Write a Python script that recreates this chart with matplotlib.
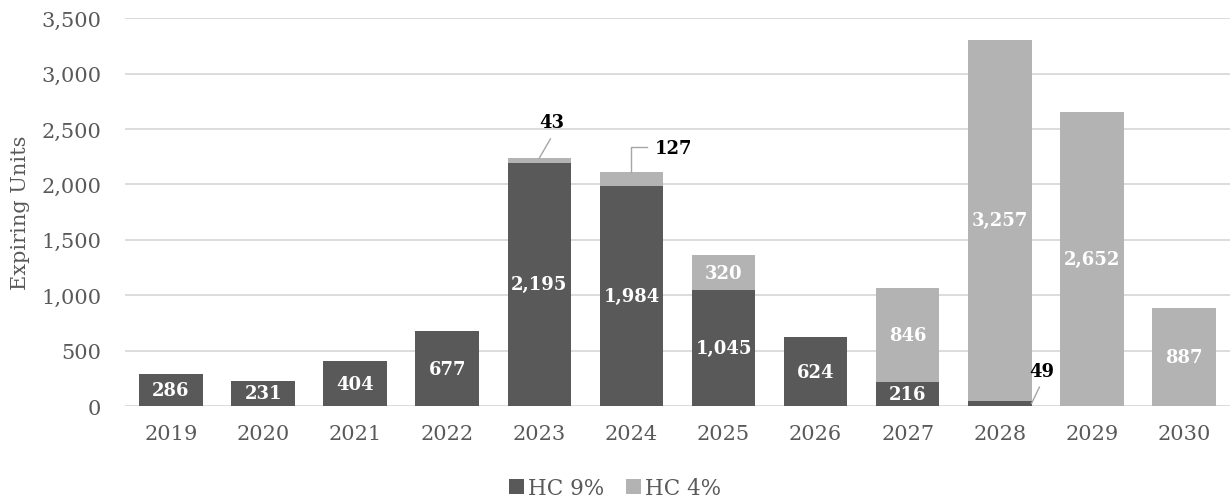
import matplotlib
matplotlib.use("Agg")
import matplotlib.pyplot as plt
import numpy as np

plt.rcParams["font.family"] = ["DejaVu Serif"]

DARK, LIGHT, GRID, TXT = "#595959", "#b3b3b3", "#d9d9d9", "#595959"

years = ["2019", "2020", "2021", "2022", "2023", "2024",
         "2025", "2026", "2027", "2028", "2029", "2030"]
hc9 = [286, 231, 404, 677, 2195, 1984, 1045, 624, 216, 49, 0, 0]
hc4 = [0, 0, 0, 0, 43, 127, 320, 0, 846, 3257, 2652, 887]

fig = plt.figure(figsize=(12.3, 5.02), dpi=100)
ax = fig.add_axes([0.1016, 0.189, 0.8984, 0.773])

x = np.arange(len(years))
w = 0.69
b1 = ax.bar(x, hc9, w, color=DARK, label="HC 9%", zorder=3)
b2 = ax.bar(x, hc4, w, bottom=hc9, color=LIGHT, label="HC 4%", zorder=3)

LFS = 13
# labels inside the segments (the small ones get callouts below)
for i in range(len(years)):
    if hc9[i] >= 100:
        ax.text(x[i], hc9[i] / 2, f"{hc9[i]:,}", ha="center", va="center",
                color="white", fontsize=LFS, fontweight="bold", zorder=4)
    if hc4[i] >= 200:
        ax.text(x[i], hc9[i] + hc4[i] / 2, f"{hc4[i]:,}", ha="center", va="center",
                color="white", fontsize=LFS, fontweight="bold", zorder=4)

# callouts
lc = "#a6a6a6"
top23 = hc9[4] + hc4[4]
ax.plot([4.0, 4.12], [top23, 2410], color=lc, lw=1, zorder=4)
ax.text(4.13, 2566, f"{hc4[4]:,}", ha="center", va="center",
        fontsize=LFS, fontweight="bold", color="black")
top24 = hc9[5] + hc4[5]
ax.plot([5.0, 5.0, 5.17], [top24, 2340, 2340], color=lc, lw=1, zorder=4)
ax.text(5.25, 2328, f"{hc4[5]:,}", ha="left", va="center",
        fontsize=LFS, fontweight="bold", color="black")
ax.plot([9.345, 9.43], [hc9[9] / 2, 171], color=lc, lw=1, zorder=4)
ax.text(9.457, 316, f"{hc9[9]:,}", ha="center", va="center",
        fontsize=LFS, fontweight="bold", color="black")

ax.set_xlim(-0.5, len(years) - 0.5)
ax.set_ylim(0, 3500)
ax.set_yticks(range(0, 3501, 500))
ax.yaxis.set_major_formatter(matplotlib.ticker.FuncFormatter(lambda v, p: f"{int(v):,}"))
ax.set_xticks(x)
ax.set_xticklabels(years)
ax.tick_params(axis="both", length=0, colors=TXT, labelsize=15)
ax.tick_params(axis="x", pad=13)
ax.tick_params(axis="y", pad=17)
ax.grid(axis="y", color=GRID, lw=1.3, zorder=0)
for s in ax.spines.values():
    s.set_visible(False)
ax.set_ylabel("Expiring Units", fontsize=15, color=TXT, labelpad=8)

fig.legend(handles=[b1, b2], loc="center", bbox_to_anchor=(0.5, 0.026),
           ncol=2, frameon=False, fontsize=15.5, handlelength=0.7,
           handleheight=0.7, handletextpad=0.2, columnspacing=1.0,
           labelcolor=TXT)

fig.savefig("out.png", dpi=100)
